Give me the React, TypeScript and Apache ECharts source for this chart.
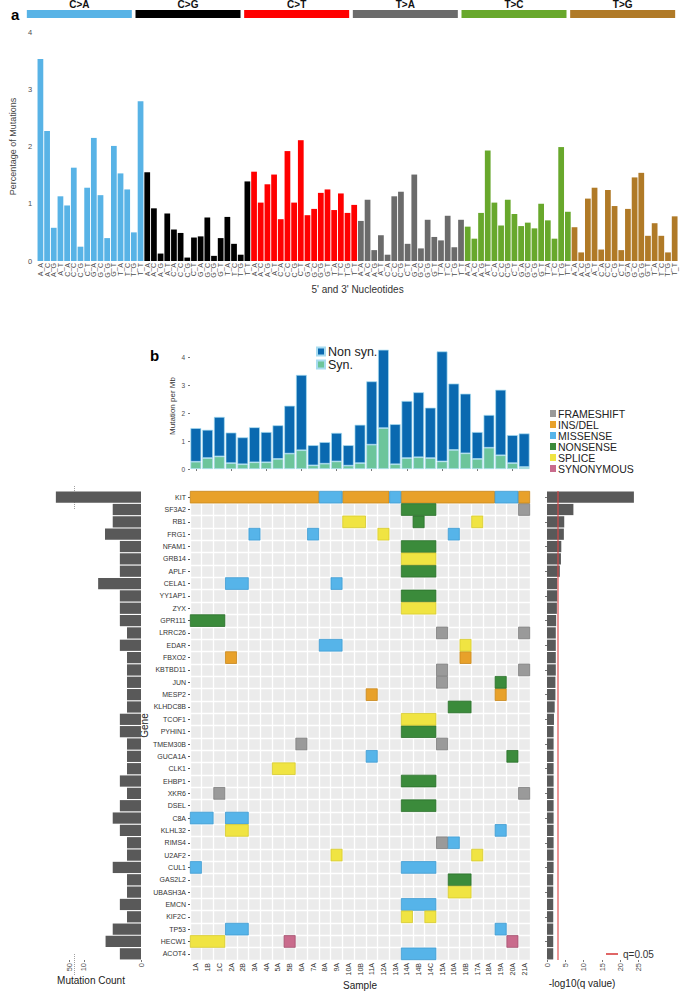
import React, { useEffect, useRef } from 'react';
import * as echarts from 'echarts';

// ---------- Panel a: trinucleotide spectrum ----------
const contexts = ['A_A','A_C','A_G','A_T','C_A','C_C','C_G','C_T','G_A','G_C','G_G','G_T','T_A','T_C','T_G','T_T'];
const substitutionTypes = ['C>A','C>G','C>T','T>A','T>C','T>G'];
const substitutionColors = ['#58b3e6','#000000','#ff0000','#6b6b6b','#68a82c','#b07a27'];
const pctCtoA = [3.53,2.27,0.58,1.13,0.97,1.63,0.25,1.28,2.15,1.15,0.40,2.01,1.53,1.25,0.50,2.79];
const pctCtoG = [1.55,0.92,0.13,0.83,0.55,0.49,0.06,0.41,0.43,0.76,0.09,0.40,0.77,0.30,0.11,1.39];
const pctCtoT = [1.56,1.02,1.34,1.51,0.73,1.92,1.02,2.11,0.80,0.91,1.19,1.25,0.89,1.18,0.84,0.98];
const pctTtoA = [0.70,1.07,0.19,0.45,0.11,1.13,1.21,0.30,1.51,0.22,0.72,0.42,0.36,0.79,0.24,0.72];
const pctTtoC = [0.60,0.39,0.84,1.93,1.02,0.62,1.07,0.82,0.61,0.67,0.57,1.00,0.71,0.39,1.99,0.86];
const pctTtoG = [0.59,0.15,1.09,1.28,0.20,1.24,0.96,0.19,0.91,1.46,1.54,0.44,0.66,0.44,0.15,0.78];
const spectrum = [pctCtoA, pctCtoG, pctCtoT, pctTtoA, pctTtoC, pctTtoG];

// ---------- Panel b ----------
const samples = ['1A','1B','1C','2A','2B','3A','4A','5A','5B','6A','7A','8A','9A','10A','10B','11A','12A','13A','14A','14B','14C','15A','16A','16B','17A','18A','19A','20A','21A'];
const synPerMb = [0.26,0.39,0.45,0.21,0.17,0.24,0.24,0.36,0.55,0.67,0.13,0.19,0.27,0.12,0.21,0.87,1.46,0.17,0.39,0.42,0.39,0.27,0.68,0.56,0.36,0.76,0.49,0.21,0.07];
const nonSynPerMb = [1.20,1.01,1.41,1.09,0.96,1.25,1.08,1.20,1.71,2.69,0.72,0.77,1.02,0.73,1.37,2.26,2.80,1.43,2.04,2.32,1.80,3.93,2.37,2.13,0.96,1.17,2.34,1.00,1.20];

const genes = ['KIT','SF3A2','RB1','FRG1','NFAM1','GRB14','APLF','CELA1','YY1AP1','ZYX','GPR111','LRRC26','EDAR','FBXO2','KBTBD11','JUN','MESP2','KLHDC8B','TCOF1','PYHIN1','TMEM30B','GUCA1A','CLK1','EHBP1','XKR6','DSEL','C8A','KLHL32','RIMS4','U2AF2','CUL1','GAS2L2','UBASH3A','EMCN','KIF2C','TP53','HECW1','ACOT4'];
const mutationCount = [14.9,4.95,4.95,6.3,3.7,3.7,3.7,7.5,3.7,3.7,3.7,2.45,3.7,2.45,2.45,2.45,2.45,2.45,3.7,3.7,2.45,2.45,2.45,3.7,2.45,3.7,4.95,3.7,2.45,2.45,4.95,2.45,2.45,3.7,2.45,4.95,6.2,3.7];
const countTicks = [0, 10, 12.6];
const countTickLabels = ['0', '10', '50'];
const negLog10Q = [23.7,7.2,4.7,4.6,3.9,3.8,3.5,2.8,2.8,2.7,2.5,2.4,2.4,2.4,2.4,2.3,2.3,2.1,1.9,1.8,1.8,1.8,1.8,1.8,1.8,1.8,1.8,1.8,1.8,1.8,1.8,1.7,1.7,1.7,1.7,1.7,1.7,1.7];
const qThresholdLine = 2.9;

const mutationTypes = ['FRAMESHIFT','INS/DEL','MISSENSE','NONSENSE','SPLICE','SYNONYMOUS'];
const mutationFill = ['#9a9a9a','#e8a12a','#56b4e9','#3b8b3b','#f0e442','#c96b8c'];
const mutationStroke = ['#7d7d7d','#c7861c','#3f9bd0','#2a6e2a','#d6c92e','#a24f6d'];

// [gene, first sample, last sample, type]
const alterations: [string, string, string, string][] = [
  ['KIT','1A','7A','INS/DEL'],['KIT','8A','9A','MISSENSE'],['KIT','10A','12A','INS/DEL'],['KIT','13A','13A','MISSENSE'],
  ['KIT','14A','18A','INS/DEL'],['KIT','19A','20A','MISSENSE'],['KIT','21A','21A','INS/DEL'],
  ['SF3A2','14A','14C','NONSENSE'],['SF3A2','21A','21A','FRAMESHIFT'],
  ['RB1','10A','10B','SPLICE'],['RB1','14B','14B','NONSENSE'],['RB1','17A','17A','SPLICE'],
  ['FRG1','3A','3A','MISSENSE'],['FRG1','7A','7A','MISSENSE'],['FRG1','12A','12A','SPLICE'],['FRG1','16A','16A','MISSENSE'],
  ['NFAM1','14A','14C','NONSENSE'],
  ['GRB14','14A','14C','SPLICE'],
  ['APLF','14A','14C','NONSENSE'],
  ['CELA1','2A','2B','MISSENSE'],['CELA1','9A','9A','MISSENSE'],
  ['YY1AP1','14A','14C','NONSENSE'],
  ['ZYX','14A','14C','SPLICE'],
  ['GPR111','1A','1C','NONSENSE'],
  ['LRRC26','15A','15A','FRAMESHIFT'],['LRRC26','21A','21A','FRAMESHIFT'],
  ['EDAR','8A','9A','MISSENSE'],['EDAR','16B','16B','SPLICE'],
  ['FBXO2','2A','2A','INS/DEL'],['FBXO2','16B','16B','INS/DEL'],
  ['KBTBD11','15A','15A','FRAMESHIFT'],['KBTBD11','21A','21A','FRAMESHIFT'],
  ['JUN','15A','15A','FRAMESHIFT'],['JUN','19A','19A','NONSENSE'],
  ['MESP2','11A','11A','INS/DEL'],['MESP2','19A','19A','INS/DEL'],
  ['KLHDC8B','16A','16B','NONSENSE'],
  ['TCOF1','14A','14C','SPLICE'],
  ['PYHIN1','14A','14C','NONSENSE'],
  ['TMEM30B','6A','6A','FRAMESHIFT'],['TMEM30B','15A','15A','FRAMESHIFT'],
  ['GUCA1A','11A','11A','MISSENSE'],['GUCA1A','20A','20A','NONSENSE'],
  ['CLK1','5A','5B','SPLICE'],
  ['EHBP1','14A','14C','NONSENSE'],
  ['XKR6','1C','1C','FRAMESHIFT'],['XKR6','21A','21A','FRAMESHIFT'],
  ['DSEL','14A','14C','NONSENSE'],
  ['C8A','1A','1B','MISSENSE'],['C8A','2A','2B','MISSENSE'],
  ['KLHL32','2A','2B','SPLICE'],['KLHL32','19A','19A','MISSENSE'],
  ['RIMS4','15A','15A','FRAMESHIFT'],['RIMS4','16A','16A','MISSENSE'],
  ['U2AF2','9A','9A','SPLICE'],['U2AF2','17A','17A','SPLICE'],
  ['CUL1','1A','1A','MISSENSE'],['CUL1','14A','14C','MISSENSE'],
  ['GAS2L2','16A','16B','NONSENSE'],
  ['UBASH3A','16A','16B','SPLICE'],
  ['EMCN','14A','14C','MISSENSE'],
  ['KIF2C','14A','14A','SPLICE'],['KIF2C','14C','14C','SPLICE'],
  ['TP53','2A','2B','MISSENSE'],['TP53','19A','19A','MISSENSE'],
  ['HECW1','1A','1C','SPLICE'],['HECW1','5B','5B','SYNONYMOUS'],['HECW1','20A','20A','SYNONYMOUS'],
  ['ACOT4','14A','14C','MISSENSE'],
];

const FONT = '"Liberation Sans", Arial, Helvetica, sans-serif';

function buildOption(): any {
  const spectrumCats: string[] = [];
  const spectrumData: any[] = [];
  substitutionTypes.forEach((t, i) => {
    contexts.forEach((c, j) => {
      spectrumCats.push(t + '|' + c);
      spectrumData.push({ value: spectrum[i][j], itemStyle: { color: substitutionColors[i] } });
    });
  });

  const cellSeries = mutationTypes.map((mt, k) => ({
    type: 'custom',
    name: mt,
    xAxisIndex: 3,
    yAxisIndex: 3,
    itemStyle: { color: mutationFill[k] },
    encode: { x: [0, 1], y: 2 },
    data: alterations
      .filter((a) => a[3] === mt)
      .map((a) => [samples.indexOf(a[1]), samples.indexOf(a[2]), genes.indexOf(a[0])]),
    renderItem: (params: any, api: any) => {
      const s = api.coord([api.value(0), api.value(2)]);
      const e = api.coord([api.value(1), api.value(2)]);
      const size = api.size([1, 1]);
      const w = size[0];
      const h = size[1];
      return {
        type: 'rect',
        shape: { x: s[0] - w / 2 + 0.3, y: s[1] - h / 2 + 0.3, width: e[0] - s[0] + w - 0.6, height: h - 0.6 },
        style: { fill: mutationFill[k], stroke: mutationStroke[k], lineWidth: 0.8 },
      };
    },
  }));

  const grayTxt = '#4d4d4d';

  return {
    animation: false,
    backgroundColor: '#ffffff',
    textStyle: { fontFamily: FONT },
    title: [
      { text: 'a', left: 6, top: 2, textStyle: { fontSize: 15, fontWeight: 'bold', color: '#000', fontFamily: FONT } },
      { text: 'b', left: 145, top: 343, textStyle: { fontSize: 15, fontWeight: 'bold', color: '#000', fontFamily: FONT } },
    ],
    legend: [
      {
        data: ['Non syn.', 'Syn.'], orient: 'vertical', left: 311, top: 340, itemWidth: 8, itemHeight: 8, itemGap: 0,
        selectedMode: false, icon: 'rect',
        textStyle: { fontSize: 12.5, lineHeight: 11, color: '#222', fontFamily: FONT, padding: [0, 0, 0, -2] },
      },
      {
        data: mutationTypes, orient: 'vertical', left: 545, top: 403, itemWidth: 6, itemHeight: 7, itemGap: 0,
        selectedMode: false, icon: 'rect',
        textStyle: { fontSize: 10.5, lineHeight: 8.3, color: '#222', fontFamily: FONT, padding: [0, 0, 0, -3] },
      },
      {
        data: ['q=0.05'], left: 601, top: 944, itemWidth: 12, itemHeight: 2, icon: 'rect', selectedMode: false,
        textStyle: { fontSize: 10, color: '#333', fontFamily: FONT },
      },
    ],
    grid: [
      { left: 25, width: 652, top: 10, height: 8 },
      { left: 21, width: 657, top: 32, height: 229 },
      { left: 190, width: 340, top: 343, height: 126 },
      { left: 190, width: 340, top: 491, height: 469, show: true, backgroundColor: '#ebebeb', borderWidth: 0 },
      { left: 41, width: 100, top: 491, height: 469 },
      { left: 547, width: 110, top: 491, height: 469 },
    ],
    xAxis: [
      { gridIndex: 0, type: 'category', data: substitutionTypes, show: false },
      {
        gridIndex: 1, type: 'category', data: spectrumCats,
        axisLine: { show: false }, axisTick: { show: false },
        axisLabel: { interval: 0, rotate: 90, fontSize: 7, color: grayTxt, margin: 2, formatter: (v: string) => v.split('|')[1] },
        name: "5' and 3' Nucleotides", nameLocation: 'middle', nameGap: 23,
        nameTextStyle: { fontSize: 10, color: '#333' },
      },
      {
        gridIndex: 2, type: 'category', data: samples, offset: 4,
        axisLine: { show: false }, axisTick: { show: true, alignWithLabel: true, length: 2, lineStyle: { color: '#777' } },
        axisLabel: { show: false },
      },
      {
        gridIndex: 3, type: 'category', data: samples,
        axisLine: { show: false }, axisTick: { show: false },
        splitLine: { show: true, interval: 0, lineStyle: { color: '#ffffff', width: 1.3 } },
        axisLabel: { interval: 0, rotate: 90, fontSize: 7, color: '#333', margin: 3 },
        name: 'Sample', nameLocation: 'middle', nameGap: 20, nameTextStyle: { fontSize: 10, color: '#222' },
      },
      {
        gridIndex: 4, type: 'value', inverse: true, min: 0, max: 17.5,
        axisLine: { show: false }, splitLine: { show: false },
        axisTick: { show: true, length: 2, customValues: countTicks, lineStyle: { color: '#777' } },
        axisLabel: {
          rotate: 90, fontSize: 7.5, color: grayTxt, margin: 3, customValues: countTicks,
          formatter: (v: number) => countTickLabels[countTicks.indexOf(v)] ?? String(v),
        },
        name: 'Mutation Count', nameLocation: 'middle', nameGap: 15, nameTextStyle: { fontSize: 10, color: '#222' },
      },
      {
        gridIndex: 5, type: 'value', min: 0, max: 30,
        axisLine: { show: false }, splitLine: { show: false },
        axisTick: { show: true, length: 2, customValues: [0, 5, 10, 15, 20, 25], lineStyle: { color: '#777' } },
        axisLabel: { rotate: 90, fontSize: 7.5, color: grayTxt, margin: 3, customValues: [0, 5, 10, 15, 20, 25] },
        name: '-log10(q value)', nameLocation: 'middle', nameGap: 18, nameTextStyle: { fontSize: 10, color: '#222', padding: [0, 0, 0, -40] },
      },
    ],
    yAxis: [
      { gridIndex: 0, type: 'value', min: 0, max: 1, show: false },
      {
        gridIndex: 1, type: 'value', min: 0, max: 4, interval: 1,
        axisLine: { show: false }, axisTick: { show: false }, splitLine: { show: false },
        axisLabel: { fontSize: 7.5, color: grayTxt, margin: 5 },
        name: 'Percentage of Mutations', nameLocation: 'middle', nameGap: 12,
        nameTextStyle: { fontSize: 9, color: '#444' },
      },
      {
        gridIndex: 2, type: 'value', min: 0, max: 4.5,
        axisLine: { show: false }, splitLine: { show: false },
        axisTick: { show: true, length: 2, customValues: [0, 1, 2, 3, 4], lineStyle: { color: '#777' } },
        axisLabel: { fontSize: 6.5, color: grayTxt, margin: 5, customValues: [0, 1, 2, 3, 4] },
        name: 'Mutation per Mb', nameLocation: 'middle', nameGap: 14,
        nameTextStyle: { fontSize: 8, color: '#333' },
      },
      {
        gridIndex: 3, type: 'category', data: genes, inverse: true,
        axisLine: { show: false },
        axisTick: { show: true, alignWithLabel: true, length: 2, lineStyle: { color: '#555' } },
        splitLine: { show: true, interval: 0, lineStyle: { color: '#ffffff', width: 1.3 } },
        axisLabel: { interval: 0, fontSize: 7, color: '#333', margin: 4 },
        name: 'Gene', nameLocation: 'middle', nameGap: 37, nameTextStyle: { fontSize: 10, color: '#222' },
      },
      { gridIndex: 4, type: 'category', data: genes, inverse: true, show: false },
      {
        gridIndex: 5, type: 'category', data: genes, inverse: true, offset: 3,
        axisLine: { show: false }, axisLabel: { show: false },
        axisTick: { show: true, alignWithLabel: true, length: 2, lineStyle: { color: '#777' } },
      },
    ],
    series: [
      {
        type: 'bar', xAxisIndex: 0, yAxisIndex: 0, barWidth: 105,
        data: substitutionTypes.map((t, i) => ({ value: 1, itemStyle: { color: substitutionColors[i] } })),
        label: { show: true, position: 'top', distance: 1, formatter: '{b}', fontSize: 10, fontWeight: 'bold', color: '#111', fontFamily: FONT },
      },
      {
        type: 'bar', xAxisIndex: 1, yAxisIndex: 1, barCategoryGap: '14%', data: spectrumData,
      },
      {
        type: 'bar', name: 'Syn.', xAxisIndex: 2, yAxisIndex: 2, stack: 'rate', barCategoryGap: '8%',
        itemStyle: { color: '#6cc59b', borderColor: '#a8dcf0', borderWidth: 0.7 }, data: synPerMb,
      },
      {
        type: 'bar', name: 'Non syn.', xAxisIndex: 2, yAxisIndex: 2, stack: 'rate', barCategoryGap: '8%',
        itemStyle: { color: '#0a69b0', borderColor: '#a8dcf0', borderWidth: 0.7 }, data: nonSynPerMb,
      },
      ...cellSeries,
      {
        type: 'bar', xAxisIndex: 4, yAxisIndex: 4, barCategoryGap: '9%',
        itemStyle: { color: '#595959' }, data: mutationCount,
      },
      {
        type: 'bar', xAxisIndex: 5, yAxisIndex: 5, barCategoryGap: '9%',
        itemStyle: { color: '#595959' }, data: negLog10Q,
        markLine: {
          silent: true, symbol: 'none', label: { show: false },
          lineStyle: { color: 'rgba(222,70,70,0.75)', width: 1.5, type: 'solid' },
          data: [{ xAxis: qThresholdLine }],
        },
      },
      {
        type: 'line', name: 'q=0.05', xAxisIndex: 5, yAxisIndex: 5, data: [],
        itemStyle: { color: '#e06666' }, lineStyle: { color: '#e06666' },
      },
    ],
    graphic: [
      { type: 'line', shape: { x1: 74.5, y1: 486, x2: 74.5, y2: 510 }, style: { stroke: '#888', lineWidth: 0.8, lineDash: [1, 1] } },
      { type: 'line', shape: { x1: 74.5, y1: 954, x2: 74.5, y2: 975 }, style: { stroke: '#888', lineWidth: 0.8, lineDash: [1, 1] } },
    ],
  };
}

export default function App() {
  const ref = useRef<HTMLDivElement>(null);
  useEffect(() => {
    if (!ref.current) return;
    const chart = echarts.init(ref.current, undefined, { renderer: 'svg' });
    chart.setOption(buildOption());
    return () => chart.dispose();
  }, []);
  return (
    <div
      ref={ref}
      style={{ position: 'absolute', left: 0, top: 0, width: 684, height: 991, background: '#fff' }}
    />
  );
}
